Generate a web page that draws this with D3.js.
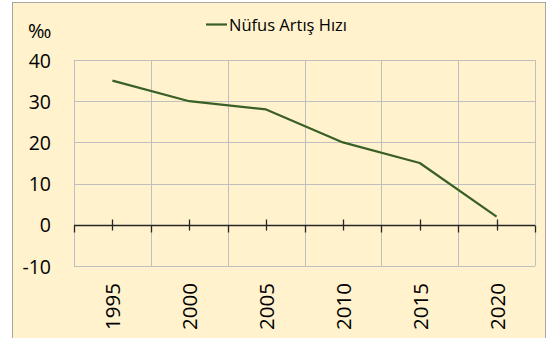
<!DOCTYPE html>
<html>
<head>
<meta charset="utf-8">
<script src="https://cdn.jsdelivr.net/npm/d3@7"></script>
<style>
  html, body { margin: 0; padding: 0; background: #fff; }
  svg { display: block; }
  text { font-family: "Open Sans", "Noto Sans", sans-serif; fill: #000; }
</style>
</head>
<body>
<svg id="chart" width="552" height="338"></svg>
<script>
// Nüfus artış hızı (‰), 1995–2020
const years = ["1995", "2000", "2005", "2010", "2015", "2020"];
const rates = [35, 30, 28, 20, 15, 2];
const yTicks = [-10, 0, 10, 20, 30, 40];
const seriesName = "Nüfus Artış Hızı";
const unitLabel = "‰";

const plot = { left: 74, right: 535, top: 60, bottom: 266 };

const svg = d3.select("#chart");

// chart frame
svg.append("rect")
  .attr("x", 12.5).attr("y", 2.5)
  .attr("width", 533).attr("height", 340)
  .attr("fill", "#FFF2CC")
  .attr("stroke", "#A6A6A6").attr("stroke-width", 1);

const x = d3.scaleBand().domain(years).range([plot.left, plot.right]).padding(0);
const y = d3.scaleLinear().domain([-10, 40]).range([plot.bottom, plot.top]);

// horizontal gridlines
svg.append("g")
  .selectAll("line").data(yTicks).join("line")
  .attr("x1", plot.left).attr("x2", plot.right)
  .attr("y1", d => Math.round(y(d)) + 0.5).attr("y2", d => Math.round(y(d)) + 0.5)
  .attr("stroke", "#BFBFBF").attr("stroke-width", 1);

// vertical gridlines at category boundaries
const bounds = years.map(d => x(d)).concat([x(years[years.length - 1]) + x.bandwidth()]);
svg.append("g")
  .selectAll("line").data(bounds).join("line")
  .attr("x1", d => Math.round(d) + 0.5).attr("x2", d => Math.round(d) + 0.5)
  .attr("y1", plot.top).attr("y2", plot.bottom)
  .attr("stroke", "#BFBFBF").attr("stroke-width", 1);

// y axis labels
svg.append("g")
  .selectAll("text").data(yTicks).join("text")
  .attr("x", 51).attr("y", d => y(d))
  .attr("text-anchor", "end").attr("dominant-baseline", "central")
  .attr("font-size", 19.5)
  .text(d => d);

// unit label
svg.append("text")
  .attr("x", 28).attr("y", 38)
  .attr("font-size", 20)
  .text(unitLabel);

// zero axis line with ticks
const y0 = Math.round(y(0)) + 0.5;
const axisG = svg.append("g");
axisG.append("line")
  .attr("x1", plot.left).attr("x2", plot.right)
  .attr("y1", y0).attr("y2", y0)
  .attr("stroke", "#262626").attr("stroke-width", 1.3);
axisG.selectAll("line.major").data(bounds).join("line").attr("class", "major")
  .attr("x1", d => Math.round(d) + 0.5).attr("x2", d => Math.round(d) + 0.5)
  .attr("y1", y0).attr("y2", y0 + 7)
  .attr("stroke", "#262626").attr("stroke-width", 1.3);
axisG.selectAll("line.minor").data(years).join("line").attr("class", "minor")
  .attr("x1", d => Math.round(x(d) + x.bandwidth() / 2) + 0.5)
  .attr("x2", d => Math.round(x(d) + x.bandwidth() / 2) + 0.5)
  .attr("y1", y0 - 6).attr("y2", y0 + 5)
  .attr("stroke", "#262626").attr("stroke-width", 1.3);

// rotated year labels
svg.append("g")
  .selectAll("text").data(years).join("text")
  .attr("transform", d => `translate(${x(d) + x.bandwidth() / 2},283) rotate(-90)`)
  .attr("text-anchor", "end").attr("dominant-baseline", "central")
  .attr("font-size", 20.5)
  .text(d => d);

// series line
const line = d3.line()
  .x((d, i) => x(years[i]) + x.bandwidth() / 2)
  .y(d => y(d));
svg.append("path")
  .datum(rates)
  .attr("d", line)
  .attr("fill", "none")
  .attr("stroke", "#3A5F24").attr("stroke-width", 2.2)
  .attr("stroke-linejoin", "round");

// legend
svg.append("line")
  .attr("x1", 206).attr("x2", 227).attr("y1", 24.5).attr("y2", 24.5)
  .attr("stroke", "#3A5F24").attr("stroke-width", 2.2);
svg.append("text")
  .attr("x", 229).attr("y", 24)
  .attr("dominant-baseline", "central")
  .attr("font-size", 16.5)
  .text(seriesName);
</script>
</body>
</html>
